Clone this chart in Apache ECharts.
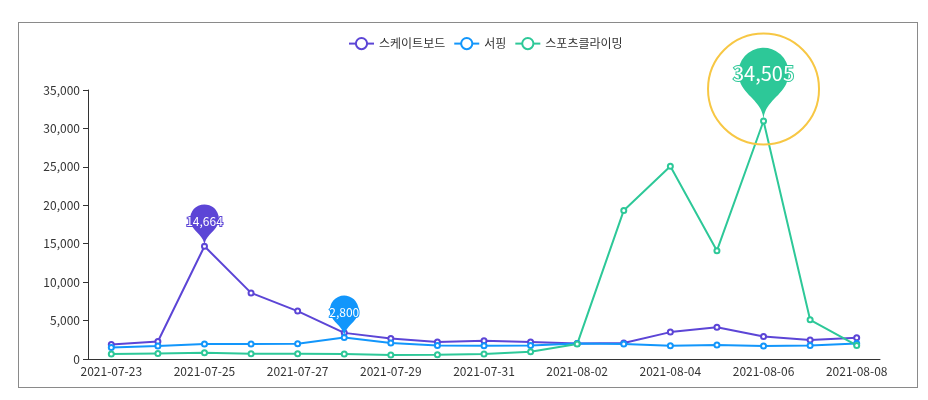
<!DOCTYPE html>
<html>
<head>
<meta charset="utf-8">
<script src="https://cdn.jsdelivr.net/npm/echarts@6/dist/echarts.min.js"></script>
<style>
html,body{margin:0;padding:0;background:#fff;}
#frame{position:absolute;left:18px;top:22px;width:900px;height:366px;border:1.5px solid #8a8a8a;box-sizing:border-box;}
#main{position:absolute;left:0;top:0;width:928px;height:400px;}
</style>
</head>
<body>
<div id="frame"></div>
<div id="main"></div>
<script>
const categories = ['2021-07-23','2021-07-24','2021-07-25','2021-07-26','2021-07-27','2021-07-28','2021-07-29','2021-07-30','2021-07-31','2021-08-01','2021-08-02','2021-08-03','2021-08-04','2021-08-05','2021-08-06','2021-08-07','2021-08-08'];
const seriesNames = ['스케이트보드','서핑','스포츠클라이밍'];
const skateboard = [1900, 2280, 14664, 8600, 6230, 3400, 2670, 2200, 2370, 2200, 2020, 2070, 3500, 4140, 2930, 2460, 2760];
const surfing    = [1500, 1680, 1940, 1940, 1980, 2800, 2070, 1760, 1720, 1760, 2020, 1940, 1720, 1810, 1680, 1760, 2020];
const climbing   = [650, 730, 820, 690, 690, 650, 520, 560, 650, 950, 1940, 19330, 25080, 14090, 30970, 5100, 1760];
const yTicks = [0, 5000, 10000, 15000, 20000, 25000, 30000, 35000];
// mark points: [category, value on axis, label value]
const skateMark = ['2021-07-25', 14664, 14664];
const surfMark = ['2021-07-28', 2800, 2800];
const climbMark = ['2021-08-06', 30970, 34505];

const colors = ['#5c45d6', '#1296fb', '#2dc898'];
const font = '"Noto Sans CJK KR", "Noto Sans", sans-serif';

function pin(mark, size, fontSize, color, offsetY) {
  return {
    coord: [mark[0], mark[1]],
    value: mark[2],
    symbol: 'pin',
    symbolSize: size,
    label: {
      fontSize: fontSize, fontFamily: font, color: '#fff',
      textBorderColor: color, textBorderWidth: 2,
      offset: [0, offsetY],
      formatter: p => p.value.toLocaleString('en-US')
    }
  };
}

const chart = echarts.init(document.getElementById('main'), null, { renderer: 'canvas' });
chart.setOption({
  backgroundColor: 'transparent',
  color: colors,
  textStyle: { fontFamily: font },
  legend: {
    data: seriesNames,
    left: 343,
    top: 32,
    itemWidth: 25,
    itemHeight: 14,
    itemGap: 8,
    textStyle: { fontSize: 12, color: '#333', fontFamily: font }
  },
  grid: { left: 88, right: 48, top: 90, bottom: 41, containLabel: false },
  xAxis: {
    type: 'category',
    data: categories,
    boundaryGap: true,
    axisLine: { lineStyle: { color: '#333' } },
    axisTick: { interval: 1, lineStyle: { color: '#333' } },
    axisLabel: { interval: 1, fontSize: 12, color: '#333', margin: 6 }
  },
  yAxis: {
    type: 'value',
    min: yTicks[0],
    max: yTicks[yTicks.length - 1],
    interval: yTicks[1] - yTicks[0],
    axisLine: { show: true, lineStyle: { color: '#333' } },
    axisTick: { show: true, lineStyle: { color: '#333' } },
    splitLine: { show: false },
    axisLabel: { fontSize: 12, color: '#333', formatter: v => v.toLocaleString('en-US') }
  },
  series: [
    {
      name: seriesNames[0], type: 'line', data: skateboard,
      symbol: 'emptyCircle', symbolSize: 5, lineStyle: { width: 2 },
      markPoint: { data: [pin(skateMark, 48, 12, colors[0], 0)] }
    },
    {
      name: seriesNames[1], type: 'line', data: surfing,
      symbol: 'emptyCircle', symbolSize: 5, lineStyle: { width: 2 },
      markPoint: { data: [pin(surfMark, 48, 12, colors[1], 0)] }
    },
    {
      name: seriesNames[2], type: 'line', data: climbing,
      symbol: 'emptyCircle', symbolSize: 5, lineStyle: { width: 2 },
      markPoint: {
        data: [
          pin(climbMark, 84, 20, colors[2], -4),
          {
            coord: [climbMark[0], climbMark[1]],
            symbol: 'circle',
            symbolSize: 111,
            symbolOffset: [0, -32],
            itemStyle: { color: 'rgba(0,0,0,0)', borderColor: '#f7c744', borderWidth: 2 },
            label: { show: false },
            silent: true
          }
        ]
      }
    }
  ]
});
</script>
</body>
</html>
